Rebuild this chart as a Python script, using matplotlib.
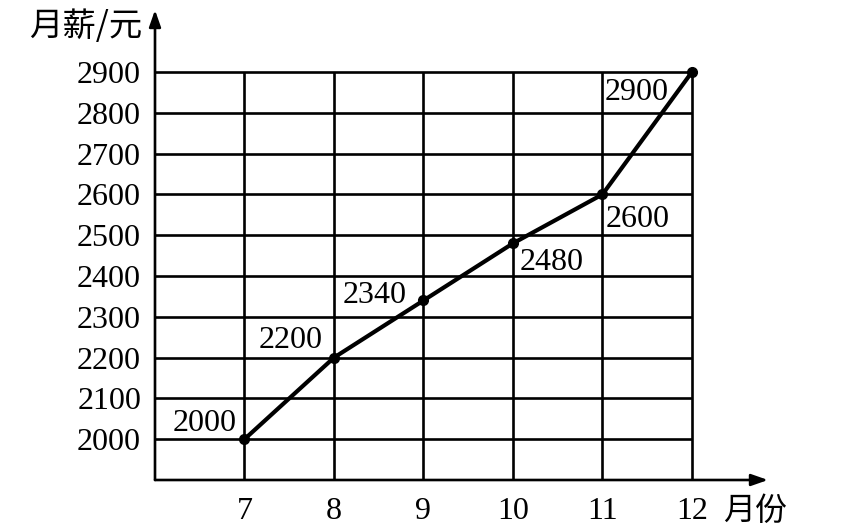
import matplotlib.pyplot as plt

# 中文字体
plt.rcParams['font.family'] = ['Noto Sans CJK SC', 'DejaVu Sans']

# 数据
months = [7, 8, 9, 10, 11, 12]
salary = [2000, 2200, 2340, 2480, 2600, 2900]
y_ticks = [2000, 2100, 2200, 2300, 2400, 2500, 2600, 2700, 2800, 2900]
# 各数据标签相对点的偏移（像素）
label_offsets = [(-40, 16), (-43, 17), (-49, 5), (39, -19), (35, -25), (-55, -20)]

fig = plt.figure(figsize=(8.65, 5.3), dpi=100)
ax = fig.add_axes([155 / 865, 50 / 530, 613 / 865, 470 / 530])
ax.set_xlim(6, 12.85)
ax.set_ylim(1900, 3052)

for s in ax.spines.values():
    s.set_visible(False)

# 网格
ax.hlines(y_ticks, 6, 12, colors='black', linewidth=1.9)
ax.vlines(months, 1900, 2900, colors='black', linewidth=1.9)

# 坐标轴箭头
arrow = dict(arrowstyle='-|>,head_length=1.0,head_width=0.35', color='black',
             linewidth=1.9, shrinkA=0, shrinkB=0)
ax.annotate('', xy=(12.85, 1900), xytext=(6, 1900), arrowprops=arrow)
ax.annotate('', xy=(6, 3052), xytext=(6, 1900), arrowprops=arrow)

# 折线
ax.plot(months, salary, color='black', linewidth=3.0, marker='o', markersize=7)

serif = ['Liberation Serif', 'DejaVu Serif']
for x, y, (dx, dy) in zip(months, salary, label_offsets):
    ax.annotate(str(y), xy=(x, y), xytext=(dx, dy), textcoords='offset pixels',
                ha='center', va='center', fontsize=23, family=serif)

ax.set_xticks(months)
ax.set_xticklabels([str(m) for m in months], family=serif, fontsize=23)
ax.set_yticks(y_ticks)
ax.set_yticklabels([str(v) for v in y_ticks], family=serif, fontsize=23)
ax.tick_params(axis='both', length=0)
ax.tick_params(axis='x', pad=12)
ax.tick_params(axis='y', pad=10)

# 轴标题
fig.text(86 / 865, 1 - 26 / 530, '月薪/元', ha='center', va='center', fontsize=24)
fig.text(755 / 865, 1 - 511 / 530, '月份', ha='center', va='center', fontsize=23)

fig.savefig('out.png', dpi=100)
